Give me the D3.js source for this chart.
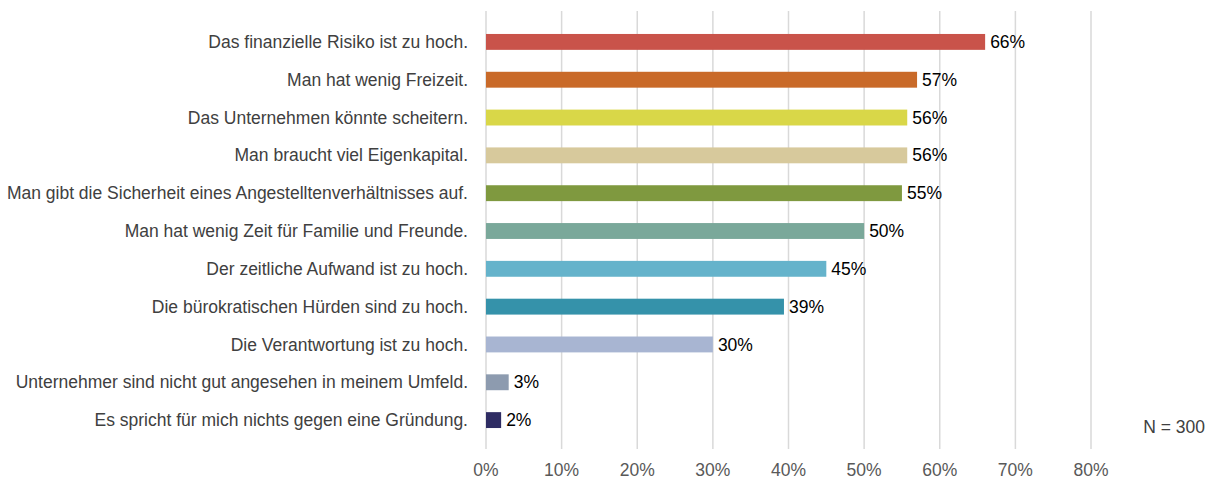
<!DOCTYPE html>
<html>
<head>
<meta charset="utf-8">
<script src="https://cdn.jsdelivr.net/npm/d3@7"></script>
<style>
  body { margin: 0; background: #fff; }
  text { font-family: "Liberation Sans", Arial, sans-serif; }
</style>
</head>
<body>
<svg id="chart"></svg>
<script>
let categories = [
  "Das finanzielle Risiko ist zu hoch.",
  "Man hat wenig Freizeit.",
  "Das Unternehmen könnte scheitern.",
  "Man braucht viel Eigenkapital.",
  "Man gibt die Sicherheit eines Angestelltenverhältnisses auf.",
  "Man hat wenig Zeit für Familie und Freunde.",
  "Der zeitliche Aufwand ist zu hoch.",
  "Die bürokratischen Hürden sind zu hoch.",
  "Die Verantwortung ist zu hoch.",
  "Unternehmer sind nicht gut angesehen in meinem Umfeld.",
  "Es spricht für mich nichts gegen eine Gründung."
]
let values = [66, 57, 55.7, 55.7, 55, 50, 45, 39.4, 30, 3, 2]
let valueLabels = ["66%", "57%", "56%", "56%", "55%", "50%", "45%", "39%", "30%", "3%", "2%"]
let colors = ["#c9534a", "#c96a29", "#d9d748", "#d7c99c", "#7f993f", "#7aa89a",
              "#65b3cb", "#3592aa", "#a8b5d2", "#8d9baf", "#2e2c63"]
let ticks = [0, 10, 20, 30, 40, 50, 60, 70, 80]
let note = "N = 300"

let width = 1208,
  height = 481,
  margins = {left: 486, right: 117, top: 23, bottom: 42},
  fontSize = 17.5

let svg = d3.select("#chart").attr("width", width).attr("height", height)

let x = d3.scaleLinear()
  .domain([0, 80])
  .range([margins.left, width - margins.right])
let y = d3.scaleBand()
  .domain(categories)
  .range([margins.top, height - margins.bottom])
  .paddingInner(0.58)
  .paddingOuter(0.29)

// gridlines
svg.append("g")
  .selectAll("line")
  .data(ticks).enter()
  .append("line")
  .attr("x1", d => x(d)).attr("x2", d => x(d))
  .attr("y1", 11).attr("y2", 449)
  .attr("stroke", "#d9d9d9")
  .attr("stroke-width", 1.5)

// tick labels
svg.append("g")
  .selectAll("text")
  .data(ticks).enter()
  .append("text")
  .attr("x", d => x(d))
  .attr("y", 476)
  .attr("text-anchor", "middle")
  .attr("font-size", fontSize)
  .attr("fill", "#595959")
  .text(d => d + "%")

// bars
let rows = categories.map((c, i) => ({cat: c, value: values[i], label: valueLabels[i], color: colors[i]}))

svg.append("g")
  .selectAll("rect")
  .data(rows).enter()
  .append("rect")
  .attr("x", x(0))
  .attr("y", d => y(d.cat))
  .attr("width", d => x(d.value) - x(0))
  .attr("height", y.bandwidth())
  .attr("fill", d => d.color)

// category labels
svg.append("g")
  .selectAll("text")
  .data(rows).enter()
  .append("text")
  .attr("x", 468)
  .attr("y", d => y(d.cat) + y.bandwidth() / 2)
  .attr("dy", "0.35em")
  .attr("text-anchor", "end")
  .attr("font-size", fontSize)
  .attr("fill", "#404040")
  .text(d => d.cat)

// value labels
svg.append("g")
  .selectAll("text")
  .data(rows).enter()
  .append("text")
  .attr("x", d => x(d.value) + 5)
  .attr("y", d => y(d.cat) + y.bandwidth() / 2)
  .attr("dy", "0.35em")
  .attr("font-size", fontSize)
  .attr("fill", "#000")
  .text(d => d.label)

svg.append("text")
  .attr("x", 1205)
  .attr("y", 433)
  .attr("text-anchor", "end")
  .attr("font-size", fontSize)
  .attr("fill", "#404040")
  .text(note)
</script>
</body>
</html>
